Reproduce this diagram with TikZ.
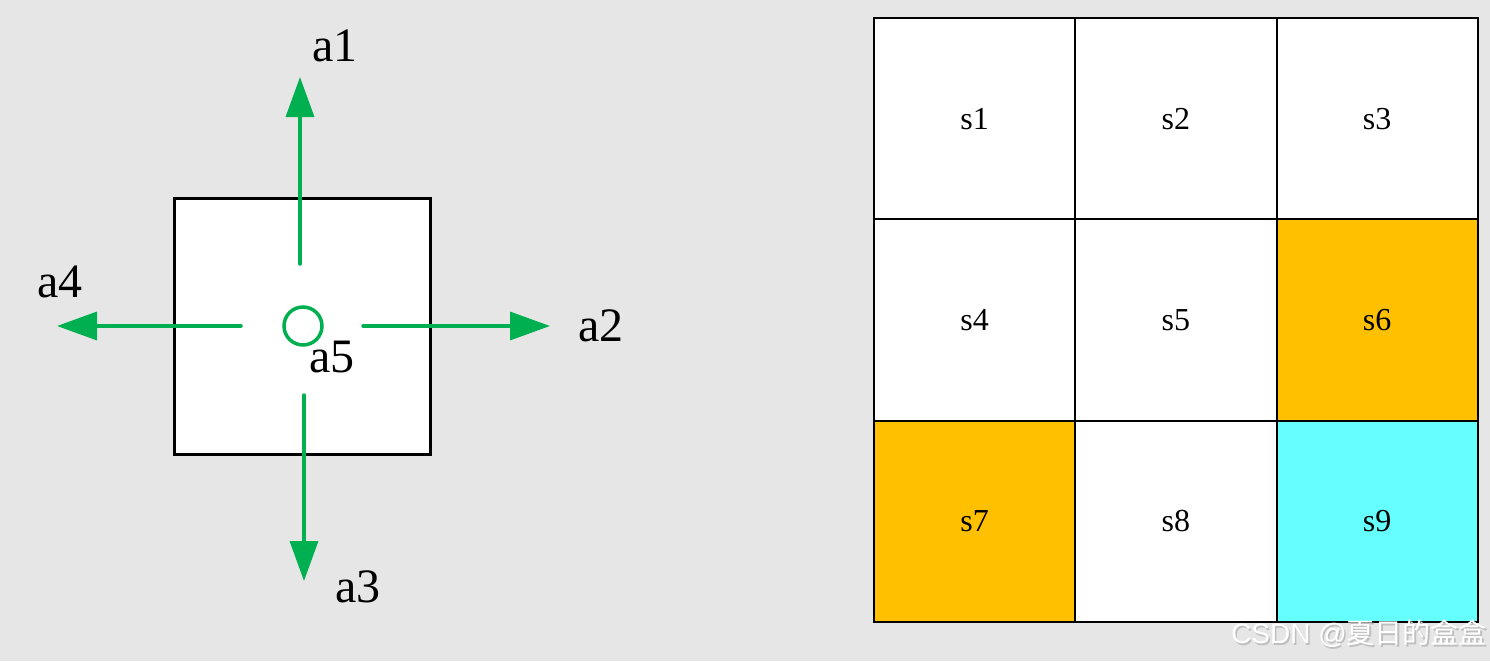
\documentclass[tikz,border=0pt]{standalone}
\usepackage{fontspec}
\setmainfont{Liberation Serif}
\newfontfamily\cjkwm{Noto Sans CJK SC}
\newfontfamily\latwm{Liberation Sans}
\usetikzlibrary{arrows.meta}
\definecolor{bggray}{HTML}{E6E6E6}
\definecolor{actgreen}{HTML}{00B050}
\definecolor{cellorange}{HTML}{FFC000}
\definecolor{cellcyan}{HTML}{66FFFF}
\tikzset{
  act/.style={draw=actgreen, line width=3.5pt, line cap=round, -{Triangle[length=40pt,width=28pt]}},
  actlabel/.style={font=\fontsize{48}{54}\selectfont, inner sep=0pt},
  cell/.style={draw=black, line width=2pt, minimum width=201.3pt, minimum height=201.3pt, inner sep=0pt, font=\fontsize{32}{36}\selectfont},
  wmark/.style={inner sep=0pt, anchor=east, font=\fontsize{28}{30}\selectfont},
}
\begin{document}
\begin{tikzpicture}[x=1pt,y=-1pt]
\fill[bggray] (0,0) rectangle (1490,661);
\useasboundingbox (0,0) rectangle (1490,661);
% left: agent square
\node[draw=black, line width=3pt, fill=white, minimum width=256pt, minimum height=256pt, inner sep=0pt] (box) at (302,326) {};
\node[draw=actgreen, line width=3.5pt, circle, minimum size=38pt, inner sep=0pt] (c) at (303,326) {};
\coordinate (u0) at (300,264);
\coordinate (u1) at (300,77);
\coordinate (r0) at (363,326);
\coordinate (r1) at (550,326);
\coordinate (l0) at (241,326);
\coordinate (l1) at (57,326);
\coordinate (d0) at (304,395);
\coordinate (d1) at (304,581);
\draw[act] (u0) -- (u1);
\draw[act] (r0) -- (r1);
\draw[act] (l0) -- (l1);
\draw[act] (d0) -- (d1);
\node[actlabel] (a1) at (335,46) {a1};
\node[actlabel] (a2) at (601,326) {a2};
\node[actlabel] (a3) at (358,587) {a3};
\node[actlabel] (a4) at (60,282) {a4};
\node[actlabel] (a5) at (332,357) {a5};
% right: grid
\node[cell, fill=white] (s1) at (974.6,118.6) {s1};
\node[cell, fill=white] (s2) at (1175.9,118.6) {s2};
\node[cell, fill=white] (s3) at (1377.2,118.6) {s3};
\node[cell, fill=white] (s4) at (974.6,319.9) {s4};
\node[cell, fill=white] (s5) at (1175.9,319.9) {s5};
\node[cell, fill=cellorange] (s6) at (1377.2,319.9) {s6};
\node[cell, fill=cellorange] (s7) at (974.6,521.2) {s7};
\node[cell, fill=white] (s8) at (1175.9,521.2) {s8};
\node[cell, fill=cellcyan] (s9) at (1377.2,521.2) {s9};
% watermark
\node[wmark, text=black!25] (wmshadow) at (1488.5,635.5) {\latwm CSDN @\cjkwm 夏日的盒盒};
\node[wmark, text=white] (wm) at (1487,634) {\latwm CSDN @\cjkwm 夏日的盒盒};
\end{tikzpicture}
\end{document}
